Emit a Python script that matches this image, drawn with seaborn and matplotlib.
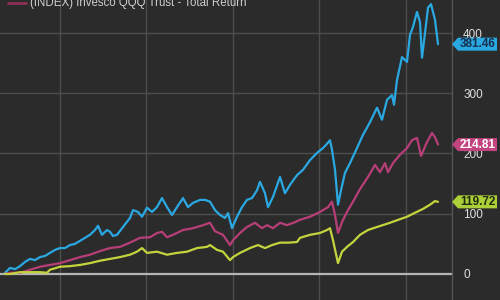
import numpy as np
import pandas as pd
import matplotlib
matplotlib.use("Agg")
import matplotlib.pyplot as plt
from matplotlib.patches import Polygon
from matplotlib.transforms import IdentityTransform
import seaborn as sns

# ---- data (weeks since start, total return %) ----
qqq_weeks = [0, 5, 10, 15, 20, 25, 30, 35, 40, 45, 50, 55, 60, 65, 70, 75, 80, 85, 90, 93,
             97, 102, 105, 108, 112, 118, 125, 128, 133, 137, 142, 147, 152, 157, 162, 167,
             172, 178, 183, 188, 195, 200, 205, 210, 215, 220, 223, 227, 232, 237, 242, 247,
             252, 255, 260, 263, 268, 275, 280, 285, 292, 298, 305, 312, 318, 323, 325, 327,
             330, 333, 336, 340, 345, 352, 358, 365, 372, 377, 382, 387, 389, 392, 397, 402,
             405, 408, 412, 415, 417, 420, 423, 426, 430, 433]
qqq_vals = [2, 10, 8, 13, 20, 25, 23, 28, 30, 35, 40, 43, 43, 48, 50, 55, 60, 65, 73, 80,
            65, 73, 70, 63, 65, 78, 93, 106, 103, 95, 110, 103, 111, 126, 111, 98,
            111, 126, 111, 118, 123, 123, 120, 106, 98, 93, 101, 76, 95, 111, 123, 126,
            139, 153, 134, 111, 128, 161, 134, 148, 164, 173, 189, 201, 209, 218, 222, 206,
            173, 115, 139, 168, 184, 209, 231, 252, 276, 256, 289, 297, 281, 322, 360, 352,
            397, 410, 435, 418, 359, 400, 442, 448, 422, 381.46]

spy_weeks = [0, 5, 15, 25, 35, 45, 55, 65, 75, 85, 95, 105, 115, 125, 135, 145, 152, 157,
             162, 168, 178, 188, 198, 205, 210, 218, 225, 228, 235, 242, 250, 257, 262, 268,
             275, 282, 290, 295, 305, 315, 323, 327, 330, 333, 337, 342, 348, 355, 363, 370,
             375, 380, 383, 388, 395, 402, 407, 412, 416, 422, 427, 430, 433]
spy_vals = [0, 2, 2, 7, 12, 15, 18, 23, 28, 32, 38, 43, 45, 52, 60, 61, 68, 70,
            61, 65, 73, 76, 81, 85, 71, 65, 48, 56, 68, 78, 85, 76, 81, 76,
            85, 81, 86, 90, 95, 103, 111, 120, 98, 68, 86, 103, 120, 141, 161, 181,
            169, 184, 169, 184, 198, 209, 222, 226, 196, 219, 234, 227, 214.81]

dow_weeks = [0, 5, 15, 25, 35, 42, 45, 55, 65, 75, 85, 95, 105, 115, 125, 132, 137, 142,
             152, 162, 172, 182, 192, 202, 205, 212, 218, 225, 228, 235, 245, 253, 260, 267,
             275, 283, 292, 295, 305, 315, 322, 325, 328, 333, 337, 342, 348, 355, 363, 372,
             385, 395, 402, 408, 418, 425, 430, 433]
dow_vals = [0, 0, 3, 3, 3, 2, 7, 12, 13, 15, 18, 22, 25, 28, 32, 37, 43, 35,
            37, 32, 35, 37, 43, 45, 48, 40, 37, 23, 28, 35, 43, 48, 43, 48,
            52, 52, 53, 60, 65, 68, 73, 76, 56, 18, 37, 45, 53, 65, 73, 78,
            85, 91, 95, 100, 108, 115, 121, 119.72]

series_names = ["Invesco QQQ Trust", "S&P 500", "Dow Jones"]
series_colors = ["#2aa8e2", "#b83e78", "#c4d43c"]
tag_colors = ["#2aa8e2", "#c2447e", "#aacf38"]
tag_text_colors = ["#15304d", "#ffffff", "#1f2a0c"]
ytick_vals = [0, 100, 200, 300, 400]
xgrid_weeks = [55, 141, 228, 314, 401]
legend_text = "(INDEX) Invesco QQQ Trust - Total Return"

df = pd.concat([
    pd.DataFrame({"week": qqq_weeks, "ret": qqq_vals, "series": series_names[0]}),
    pd.DataFrame({"week": spy_weeks, "ret": spy_vals, "series": series_names[1]}),
    pd.DataFrame({"week": dow_weeks, "ret": dow_vals, "series": series_names[2]}),
])

bg = "#2b2b2b"
sns.set_theme(style="dark", rc={"axes.facecolor": bg, "figure.facecolor": bg})
plt.rcParams["font.family"] = ["Liberation Sans", "DejaVu Sans"]

fig = plt.figure(figsize=(5, 3), dpi=100)
ax = fig.add_axes([0, 0, 0.904, 1])

for x in xgrid_weeks:
    ax.axvline(x, color="#4d4d4d", lw=1.0, zorder=0)
for y in ytick_vals[1:]:
    ax.axhline(y, color="#4d4d4d", lw=1.0, zorder=0)
ax.axhline(0, color="#b5b5b5", lw=1.6, zorder=1)

sns.lineplot(data=df, x="week", y="ret", hue="series", palette=series_colors,
             hue_order=series_names, lw=1.6, legend=False, ax=ax, zorder=3)

ax.set_xlim(-5, 447)
ax.set_ylim(-43.2, 454.8)
ax.set_xticks([])
ax.set_yticks(ytick_vals)
ax.yaxis.tick_right()
ax.tick_params(axis="y", length=0, pad=8, labelsize=8.5, labelcolor="#e0e0e0")
ax.set_xlabel("")
ax.set_ylabel("")
for s in ["top", "left", "bottom"]:
    ax.spines[s].set_visible(False)
ax.spines["right"].set_color("#555555")
ax.spines["right"].set_linewidth(1.0)

# value tags on the right
fig.canvas.draw()
last_vals = [qqq_vals[-1], spy_vals[-1], dow_vals[-1]]
x_tip = ax.transAxes.transform((1, 0))[0]
for val, c, tc in zip(last_vals, tag_colors, tag_text_colors):
    yd = ax.transData.transform((0, val))[1]
    h = 6.5
    pts = [(x_tip, yd), (x_tip + 6, yd + h), (x_tip + 45, yd + h),
           (x_tip + 45, yd - h), (x_tip + 6, yd - h)]
    fig.patches.append(Polygon(pts, closed=True, transform=IdentityTransform(),
                               facecolor=c, edgecolor="none", figure=fig))
    fig.text((x_tip + 26) / fig.bbox.width, yd / fig.bbox.height, f"{val:.2f}",
             color=tc, fontsize=8.5, fontweight="bold", ha="center", va="center")

# legend line + title (cropped at top)
fig.add_artist(plt.Line2D([8 / 500, 26 / 500], [1 - 3 / 300, 1 - 3 / 300],
                          color="#8e2f55", lw=2, transform=fig.transFigure))
fig.text(30 / 500, 1 - 6 / 300, legend_text, color="#cfcfcf", fontsize=8.3,
         ha="left", va="baseline")

fig.savefig("out.png", dpi=100, facecolor=bg)
